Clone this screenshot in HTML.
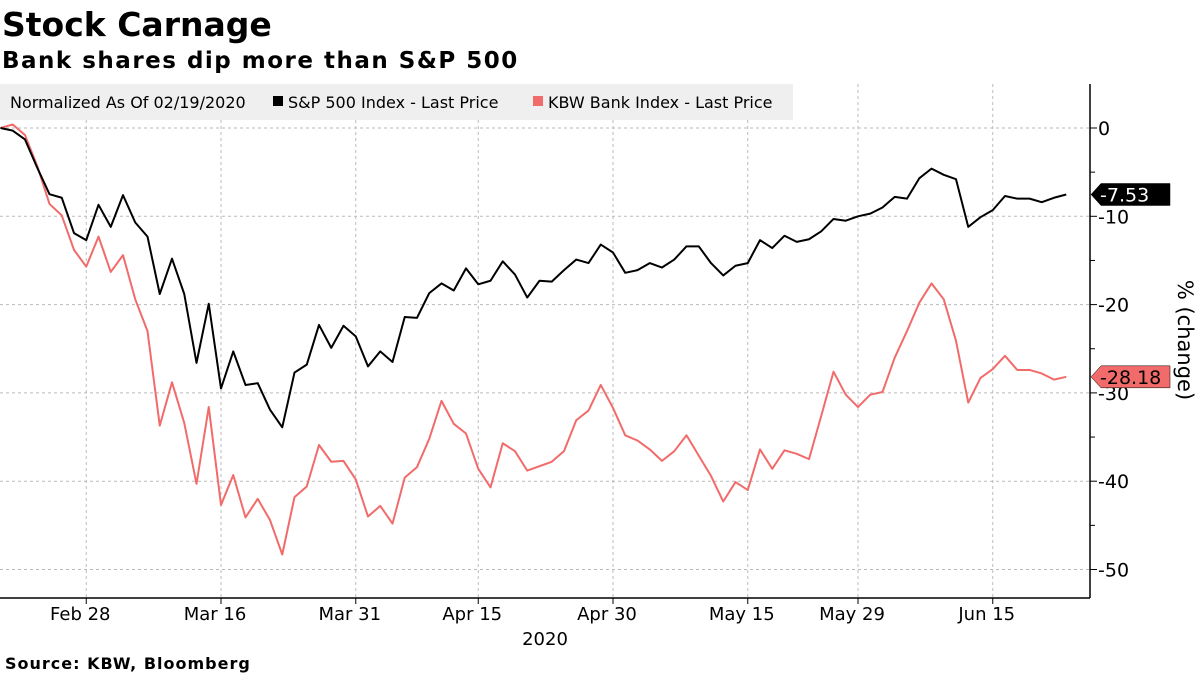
<!DOCTYPE html>
<html><head><meta charset="utf-8"><style>
body{margin:0;width:1200px;height:675px;background:#fff;overflow:hidden;font-family:"DejaVu Sans","Liberation Sans",sans-serif}
</style></head><body>
<svg width="1200" height="675" xmlns="http://www.w3.org/2000/svg" font-family="DejaVu Sans, Liberation Sans, sans-serif">
<text x="2" y="36" font-size="33" font-weight="bold" fill="#000">Stock Carnage</text>
<text x="2" y="68" font-size="23" font-weight="bold" letter-spacing="1.5" fill="#000">Bank shares dip more than S&amp;P 500</text>
<g id="grid"></g>
<g id="axes"></g>
<g id="series"></g>
<rect x="0" y="84" width="793" height="36" fill="#efefef"/>
<text x="10" y="108" font-size="16" fill="#000">Normalized As Of 02/19/2020</text>
<rect x="273" y="96" width="10" height="10" fill="#000"/>
<text x="288" y="108" font-size="16" fill="#000">S&amp;P 500 Index - Last Price</text>
<rect x="533" y="96" width="10" height="10" fill="#f26b6b"/>
<text x="548" y="108" font-size="16" fill="#000">KBW Bank Index - Last Price</text>
<text x="545" y="645" font-size="18" text-anchor="middle" fill="#000">2020</text>
<text x="5" y="669" font-size="16" font-weight="bold" letter-spacing="1" fill="#000">Source: KBW, Bloomberg</text>
<text transform="translate(1178,340) rotate(90)" font-size="21" text-anchor="middle" fill="#000">% (change)</text>
</svg>
<script>
const spx=[0,-0.3,-1.3,-4.5,-7.5,-7.9,-11.9,-12.7,-8.7,-11.2,-7.6,-10.7,-12.3,-18.8,-14.8,-18.8,-26.6,-19.9,-29.5,-25.3,-29.1,-28.9,-31.9,-33.9,-27.7,-26.8,-22.3,-24.9,-22.4,-23.6,-27.0,-25.3,-26.5,-21.4,-21.5,-18.7,-17.6,-18.4,-15.9,-17.7,-17.3,-15.1,-16.6,-19.2,-17.3,-17.4,-16.1,-14.9,-15.3,-13.2,-14.1,-16.4,-16.1,-15.3,-15.8,-14.9,-13.4,-13.4,-15.3,-16.7,-15.6,-15.3,-12.7,-13.6,-12.2,-12.9,-12.6,-11.7,-10.3,-10.5,-10.0,-9.7,-9.0,-7.8,-8.0,-5.7,-4.6,-5.3,-5.8,-11.2,-10.1,-9.3,-7.7,-8.0,-8.0,-8.4,-7.9,-7.53];
const kbw=[0,0.4,-0.8,-4.3,-8.6,-9.9,-13.8,-15.7,-12.3,-16.3,-14.4,-19.4,-23.0,-33.7,-28.8,-33.4,-40.3,-31.6,-42.7,-39.3,-44.1,-42.0,-44.4,-48.3,-41.8,-40.6,-35.9,-37.8,-37.7,-39.8,-44.0,-42.8,-44.8,-39.6,-38.4,-35.2,-30.9,-33.5,-34.6,-38.6,-40.7,-35.7,-36.6,-38.8,-38.3,-37.8,-36.6,-33.1,-32.0,-29.1,-31.7,-34.8,-35.4,-36.4,-37.7,-36.6,-34.8,-37.1,-39.4,-42.3,-40.1,-41.0,-36.4,-38.6,-36.5,-36.9,-37.5,-32.6,-27.6,-30.2,-31.6,-30.2,-29.9,-26.0,-23.0,-19.8,-17.6,-19.4,-24.1,-31.1,-28.3,-27.3,-25.8,-27.4,-27.4,-27.8,-28.5,-28.18];
const xTickLabels=["Feb 28","Mar 16","Mar 31","Apr 15","Apr 30","May 15","May 29","Jun 15"];
const xTickIndex=[7,18,29,39,50,61,70,81];
const yTicks=[0,-10,-20,-30,-40,-50];
const NS="http://www.w3.org/2000/svg";
const X=i=>0.5+12.25*i, Y=v=>128-8.83*v;
function el(t,a,p){const e=document.createElementNS(NS,t);for(const k in a)e.setAttribute(k,a[k]);document.getElementById(p).appendChild(e);return e;}
yTicks.forEach(v=>{
 const g=el('line',{x1:0,x2:1090,y1:Y(v),y2:Y(v),stroke:'#bbb','stroke-dasharray':'3,3','stroke-width':1},'grid');
 
 
 const t=el('text',{x:1098,y:Y(v)+7,'font-size':19,fill:'#000'},'axes');t.textContent=v===0?'0':'-'+Math.abs(v);
 
 
 el('line',{x1:1090,x2:1097,y1:Y(v),y2:Y(v),stroke:'#000'},'axes');
 if(v>-50){el('line',{x1:1090,x2:1095,y1:Y(v-5),y2:Y(v-5),stroke:'#000'},'axes');}
});
xTickIndex.forEach((ix,k)=>{
 const g=el('line',{x1:X(ix),x2:X(ix),y1:84,y2:598,stroke:'#bbb','stroke-dasharray':'3,3'},'grid');
 
 
 el('line',{x1:X(ix),x2:X(ix),y1:598,y2:604,stroke:'#000'},'axes');
 const t=el('text',{x:X(ix)-6,y:620,'font-size':18,'text-anchor':'middle',fill:'#000'},'axes');t.textContent=xTickLabels[k];
 
 
});
el('line',{x1:0,x2:1090,y1:598,y2:598,stroke:'#000','stroke-width':1.5},'axes');
el('line',{x1:1090,x2:1090,y1:84,y2:598,stroke:'#000','stroke-width':1.5},'axes');
function line(d,c,name){const p=el('polyline',{points:d.map((v,i)=>X(i)+','+Y(v)).join(' '),fill:'none',stroke:c,'stroke-width':2,'stroke-linejoin':'round'},'series');
 
 }
line(kbw,'#f26b6b','kbw-line');line(spx,'#000','spx-line');
function flag(v,bg,fg,name){const y=Y(v);
 const r=el('polygon',{points:`1091,${y} 1101,${y-11} 1170,${y-11} 1170,${y+11} 1101,${y+11}`,fill:bg,stroke:'#000','stroke-width':0.5},'axes');
 
 
 const t=el('text',{x:1100,y:y+7,'font-size':19,fill:fg},'axes');t.textContent=v.toFixed(2);}
flag(spx[spx.length-1],'#000','#fff','spx-last-value');
flag(kbw[kbw.length-1],'#f26b6b','#000','kbw-last-value');
</script>
</body></html>
